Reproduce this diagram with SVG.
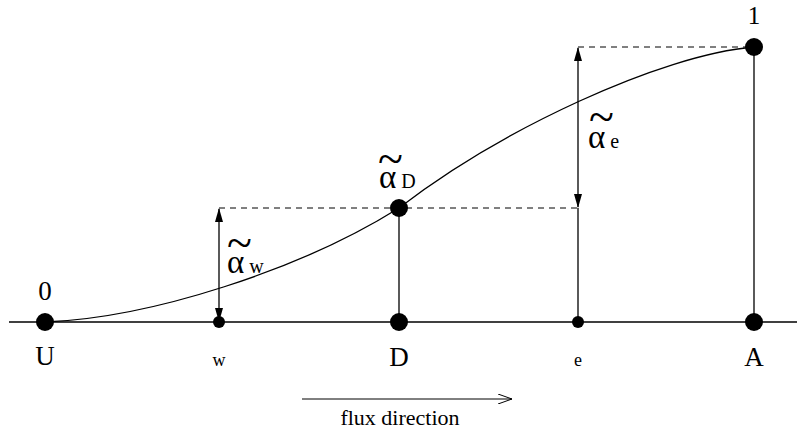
<svg xmlns="http://www.w3.org/2000/svg" width="799" height="432" viewBox="0 0 799 432">
<style>
text{font-family:"Liberation Serif","Times New Roman",serif;fill:#000}
.lbl{font-size:27px;text-anchor:middle}
.sm{font-size:18px;text-anchor:middle}
.al{font-size:33px}
.sub{font-size:20px}
.til{font-size:46px}
.ln{stroke:#000;stroke-width:1.3;fill:none}
.ds{stroke:#000;stroke-width:1;stroke-dasharray:6,5;fill:none}
</style>
<defs>
<marker id="ah" markerWidth="14" markerHeight="8" refX="13" refY="4" orient="auto-start-reverse" markerUnits="userSpaceOnUse" viewBox="0 0 14 8">
<path d="M0,0 L14,4 L0,8 z" fill="#000"/>
</marker>
<marker id="oa" markerWidth="14" markerHeight="10" refX="14" refY="5" orient="auto" markerUnits="userSpaceOnUse" viewBox="0 0 14 10">
<path d="M0,0 L14,5 L0,10" fill="none" stroke="#000" stroke-width="1"/>
</marker>
</defs>
<g id="connectors">
<line class="ln" x1="9" y1="322" x2="797" y2="322"/>
<path class="ln" d="M45,322 C150,318 300,270 399,208 C500,130 660,55 754,47"/>
<line class="ds" x1="219" y1="208" x2="578" y2="208"/>
<line class="ds" x1="578" y1="47" x2="754" y2="47"/>
<line class="ln" x1="399" y1="208" x2="399" y2="322"/>
<line class="ln" x1="578" y1="208" x2="578" y2="322"/>
<line class="ln" x1="754" y1="47" x2="754" y2="322"/>
<line class="ln" x1="219" y1="209" x2="219" y2="321" marker-start="url(#ah)" marker-end="url(#ah)"/>
<line class="ln" x1="578" y1="48" x2="578" y2="207" marker-start="url(#ah)" marker-end="url(#ah)"/>
<line stroke="#000" stroke-width="1" x1="302" y1="399" x2="512" y2="399" marker-end="url(#oa)"/>
</g>
<g id="U">
<circle cx="45" cy="322" r="9"/>
<text class="lbl" x="45" y="300">0</text>
<text class="lbl" x="45" y="365">U</text>
</g>
<g id="w">
<circle cx="219" cy="322" r="6"/>
<text class="sm" x="219" y="366">w</text>
<text><tspan class="til" x="227" y="258">~</tspan><tspan class="al" x="227" y="273">α</tspan><tspan class="sub" dx="5">w</tspan></text>
</g>
<g id="D">
<circle cx="399" cy="208" r="9"/>
<circle cx="399" cy="322" r="9"/>
<text class="lbl" x="399" y="366">D</text>
<text><tspan class="til" x="378" y="174">~</tspan><tspan class="al" x="379" y="188">α</tspan><tspan class="sub" dx="5">D</tspan></text>
</g>
<g id="e">
<circle cx="578" cy="322" r="6"/>
<text class="sm" x="578" y="366">e</text>
<text><tspan class="til" x="589" y="132">~</tspan><tspan class="al" x="588" y="148">α</tspan><tspan class="sub" dx="5">e</tspan></text>
</g>
<g id="A">
<circle cx="754" cy="47" r="9"/>
<circle cx="754" cy="322" r="9"/>
<text x="754" y="24" style="font-size:25px;text-anchor:middle">1</text>
<text class="lbl" x="754" y="366">A</text>
</g>
<g id="flux">
<text x="400" y="425" style="font-size:22px;text-anchor:middle">flux direction</text>
</g>
</svg>
